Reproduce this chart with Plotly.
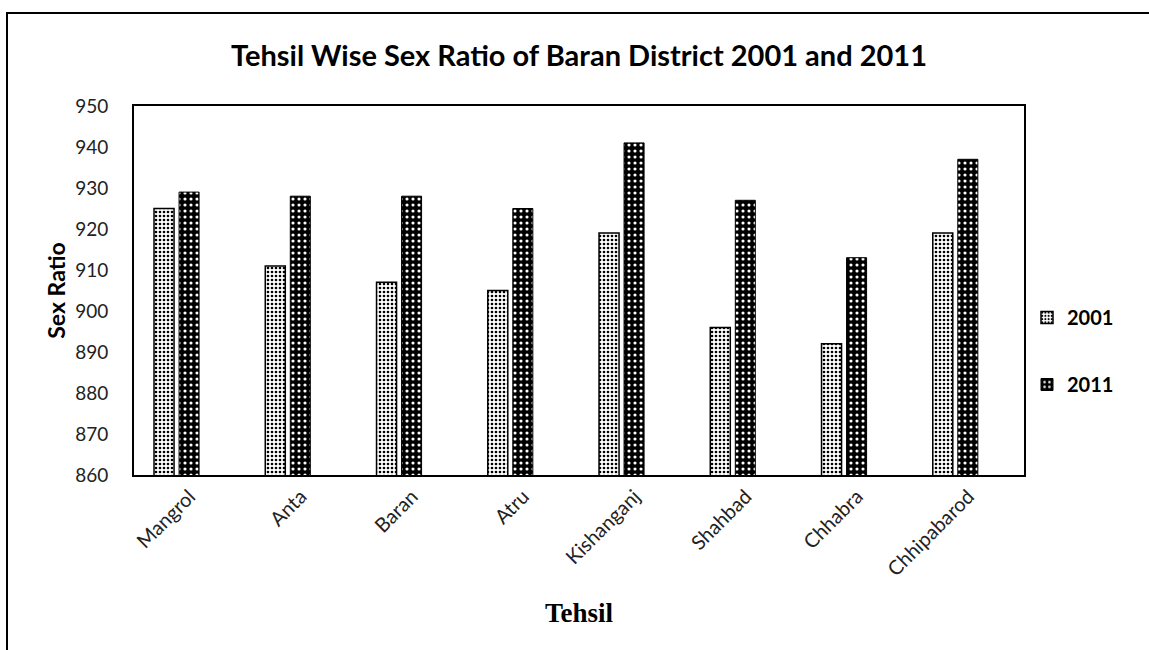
import plotly.graph_objects as go

tehsils = ["Mangrol", "Anta", "Baran", "Atru", "Kishanganj", "Shahbad", "Chhabra", "Chhipabarod"]
ratio_2001 = [925, 911, 907, 905, 919, 896, 892, 919]
ratio_2011 = [929, 928, 928, 925, 941, 927, 913, 937]
y_ticks = [860, 870, 880, 890, 900, 910, 920, 930, 940, 950]

W, H = 1149, 650
L, R, T, B = 134, 1024, 106, 475

fig = go.Figure()
fig.add_trace(go.Bar(
    x=tehsils, y=ratio_2001, name="<b>2001</b>",
    width=0.18, offset=-0.32,
    marker=dict(color="white",
                line=dict(color="black", width=1.5),
                pattern=dict(shape=".", fgcolor="black", bgcolor="white",
                             size=4, solidity=0.35, fillmode="replace")),
    legendgroup="a",
))
fig.add_trace(go.Bar(
    x=tehsils, y=ratio_2011, name="<b>2011</b>",
    width=0.18, offset=-0.095,
    marker=dict(color="black",
                line=dict(color="black", width=1),
                pattern=dict(shape=".", fgcolor="white", bgcolor="black",
                             size=6, solidity=0.22, fillmode="replace")),
    legendgroup="b",
))

pw = R - L
ph = B - T
fig.add_shape(type="rect", xref="paper", yref="paper",
              x0=(7 - L) / pw, x1=(W + 20 - L) / pw,
              y0=(B - (H + 20)) / ph, y1=(B - 13) / ph,
              line=dict(color="black", width=2), fillcolor="rgba(0,0,0,0)", layer="below")

fig.update_layout(
    width=W, height=H,
    margin=dict(l=L, r=W - R, t=T, b=H - B, autoexpand=False),
    paper_bgcolor="white", plot_bgcolor="white",
    barmode="overlay",
    font=dict(family="Lato", color="black", size=19),
    title=dict(text="<b>Tehsil Wise Sex Ratio of Baran District 2001 and 2011</b>",
               x=0.5, xref="paper", xanchor="center",
               y=1 - 56 / H, yref="container", yanchor="middle",
               font=dict(family="Lato", size=29, color="black")),
    xaxis=dict(
        tickangle=-45, showgrid=False, ticks="",
        showline=True, linecolor="black", linewidth=2, mirror=True,
        ticklabelstandoff=0,
        tickfont=dict(family="Lato", size=20, color="#222"),
        title=dict(text="<b>Tehsil</b>", font=dict(family="Liberation Serif", size=27, color="black"),
                   standoff=24),
        automargin=False,
    ),
    yaxis=dict(
        range=[860, 950], tickvals=y_ticks, showgrid=False, ticks="",
        showline=True, linecolor="black", linewidth=2, mirror=True,
        ticklabelstandoff=20,
        tickfont=dict(family="Lato", size=19, color="#222"),
        title=dict(text="<b>Sex Ratio</b>", font=dict(family="Lato", size=23, color="black"),
                   standoff=3),
        automargin=False, zeroline=False,
    ),
    legend=dict(x=(1027 - L) / pw, xanchor="left", y=(B - 298) / ph, yanchor="top",
                font=dict(family="Lato", size=20, color="black"),
                tracegroupgap=38, traceorder="grouped", bgcolor="rgba(0,0,0,0)"),
    showlegend=True,
)

fig.write_html("out.html")
